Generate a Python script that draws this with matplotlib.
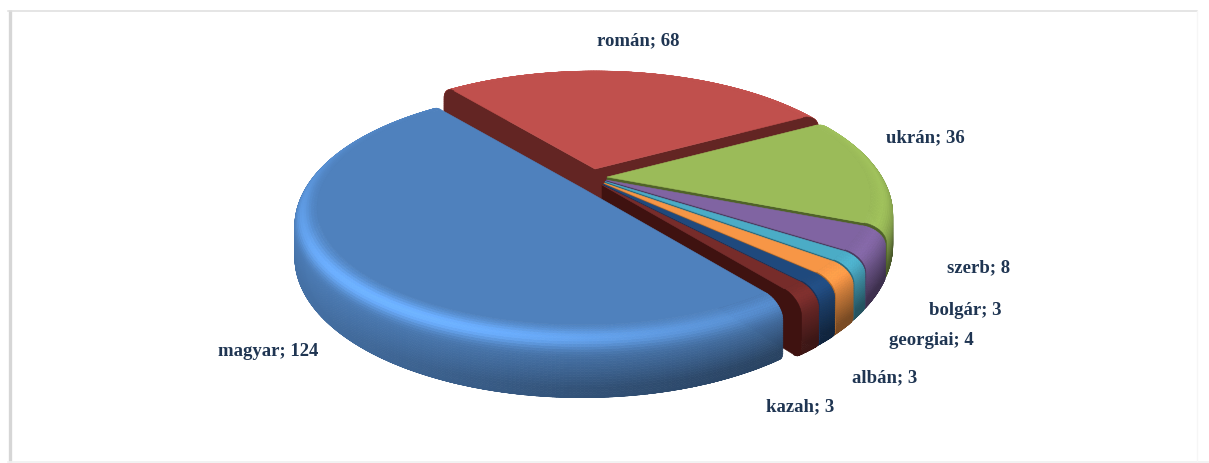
import numpy as np
import matplotlib
matplotlib.use("Agg")
import matplotlib.pyplot as plt
from matplotlib.collections import PolyCollection
from matplotlib.patches import Polygon

# data
categories = ["magyar", "román", "ukrán", "szerb", "bolgár", "georgiai", "albán", "kazah"]
values = [124, 68, 36, 8, 3, 4, 3, 3]

# style
colors = ["#4F81BD", "#C0504D", "#9BBB59", "#8064A2", "#4BACC6", "#F79646", "#1F497D", "#772C2A"]
cut_colors = ["#2C4D75", "#632523", "#4F6228", "#4A3A60", "#2B6A7C", "#B66A28", "#14305A", "#3F1210"]
hubs = [(582, 189), (595, 170), (607, 178), (606, 181), (605, 182.5), (604, 184), (603, 185), (602, 186)]
radii = [0.98, 0.975, 0.975, 0.975, 0.975, 0.975, 0.975, 0.975]
label_pos = [(268, 352), (638, 41), (925, 138), (979, 268), (965, 311), (931, 341), (885, 378), (800, 407)]
START = 142.7
R, B, K, DEPTH = 288.0, 125.0, 0.19, 52.0
TOP_R = 0.925
TEXT = "#1F3552"
draw_order = [1, 2, 3, 4, 5, 6, 7, 0]

fig = plt.figure(figsize=(12.09, 4.64), dpi=100, facecolor="white")
ax = fig.add_axes([0, 0, 1, 1])
ax.set_xlim(0, 1209)
ax.set_ylim(464, 0)
ax.axis("off")

# frame
ax.plot([10, 10], [11, 463], color="#D6D6D6", lw=2.4, solid_capstyle="butt", zorder=1)
ax.plot([8, 1197], [12, 12], color="#DEDEDE", lw=1.1, zorder=1)
ax.plot([8, 1209], [462.5, 462.5], color="#F0F0F0", lw=1.2, zorder=1)
ax.plot([1197, 1197], [12, 462], color="#F6F6F6", lw=1.0, zorder=1)


def project(hub, r, phi, z, scale=1.0):
    """phi: degrees clockwise from the back of the pie; z: 0 top, 1 bottom."""
    a = np.radians(phi)
    X, Y = scale * r * np.sin(a), -scale * r * np.cos(a)
    s = 1.0 / (1.0 - K * Y)
    return hub[0] + R * X * s, hub[1] + (B * Y + DEPTH * z) * s


def shade(col, m):
    c = np.array(matplotlib.colors.to_rgb(col))
    return tuple(np.clip(c * m, 0, 1))


# rim profile (r, z) from the top edge outwards and down
th = np.linspace(0, np.pi / 2, 14)
prof = [(TOP_R + (1 - TOP_R) * np.sin(t), 0.28 * (1 - np.cos(t))) for t in th]
prof += [(1.0, z) for z in np.linspace(0.32, 0.84, 14)]
th2 = np.linspace(0, np.pi / 2, 7)[1:]
prof += [(1.0 - 0.035 * (1 - np.cos(t)), 0.84 + 0.16 * np.sin(t)) for t in th2]
prof = np.array(prof)
tvals = np.linspace(0, 1, len(prof) - 1)


def rim_m(t, phi):
    p = (phi % 360)
    # light comes from the front-left
    ang = np.exp(-((p - 215) / 55.0) ** 2)
    base = 0.46 + 0.42 * np.exp(-((p - 255) / 80.0) ** 2)
    side = 1.0 + (base - 1.0) * min(max(t - 0.12, 0) / 0.65, 1) ** 1.1
    glow = (0.05 + 0.36 * ang) * np.exp(-((t - 0.17) / 0.12) ** 2)
    return side + glow


total = float(sum(values))
spans = np.array(values) / total * 360.0
starts = START + np.concatenate([[0], np.cumsum(spans)[:-1]])

for i in draw_order:
    hub, col, cut, sc = hubs[i], colors[i], cut_colors[i], radii[i]
    p0, p1 = starts[i], starts[i] + spans[i]
    phis = np.linspace(p0, p1, max(3, int(spans[i] * 1.5)))
    # rim: bottom bands first
    polys, fcs = [], []
    for b in range(len(prof) - 2, -1, -1):
        r1, z1 = prof[b]
        r2, z2 = prof[b + 1]
        for a1, a2 in zip(phis[:-1], phis[1:]):
            polys.append([project(hub, r1, a1, z1, sc), project(hub, r1, a2, z1, sc),
                          project(hub, r2, a2, z2, sc), project(hub, r2, a1, z2, sc)])
            fcs.append(shade(col, rim_m(tvals[b], 0.5 * (a1 + a2))))
    ax.add_collection(PolyCollection(polys, facecolors=fcs, edgecolors=fcs, linewidths=0.5, zorder=3 + draw_order.index(i)))
    # radial cut faces: only those turned towards the viewer
    for p, sign in ((p0, -1), (p1, 1)):
        if sign * np.sin(np.radians(p)) <= 0:
            continue
        pts = [project(hub, 0, p, 0, sc)]
        pts += [project(hub, r, p, z, sc) for r, z in prof[::2]]
        pts += [project(hub, 0, p, 1, sc)]
        ax.add_patch(Polygon(pts, closed=True, facecolor=cut, edgecolor=cut, lw=0.4, zorder=3.2 + draw_order.index(i)))
    # top face
    top_phi = np.linspace(p0, p1, max(4, int(spans[i] * 2)))
    pts = [project(hub, 0, p0, 0, sc)] + [project(hub, TOP_R, p, 0, sc) for p in top_phi]
    ax.add_patch(Polygon(pts, closed=True, facecolor=col, edgecolor=col, lw=0.4, zorder=3.4 + draw_order.index(i)))

for name, v, (x, y) in zip(categories, values, label_pos):
    ax.text(x, y, f"{name}; {v}", ha="center", va="center", color=TEXT, fontsize=13.5,
            fontweight="bold", family="Liberation Serif", zorder=20)

fig.savefig("out.png", dpi=100, facecolor="white")
